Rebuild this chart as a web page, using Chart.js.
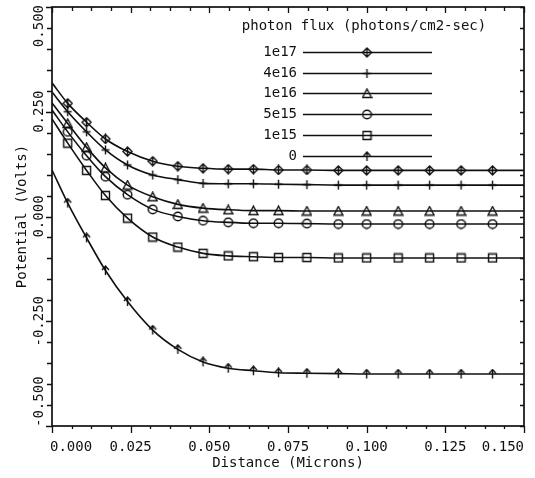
<!DOCTYPE html>
<html>
<head>
<meta charset="utf-8">
<script src="https://cdn.jsdelivr.net/npm/chart.js@4.4.0/dist/chart.umd.min.js"></script>
<style>
html, body { margin: 0; padding: 0; background: #fff; }
#wrap { width: 535px; height: 478px; }
</style>
</head>
<body>
<div id="wrap"><canvas id="chart" width="535" height="478"></canvas></div>
<script>
// distance along the device (microns)
const distance = [0, 0.005, 0.011, 0.017, 0.024, 0.032, 0.040, 0.048, 0.056, 0.064, 0.072, 0.081, 0.091, 0.100, 0.110, 0.120, 0.130, 0.140, 0.150];

// potential (volts) for each photon flux
const flux1e17 = [0.319, 0.270, 0.225, 0.185, 0.155, 0.132, 0.120, 0.115, 0.113, 0.113, 0.111, 0.111, 0.110, 0.110, 0.110, 0.110, 0.110, 0.110, 0.110];
const flux4e16 = [0.297, 0.250, 0.202, 0.159, 0.123, 0.099, 0.088, 0.079, 0.078, 0.078, 0.077, 0.076, 0.075, 0.075, 0.075, 0.075, 0.075, 0.075, 0.075];
const flux1e16 = [0.271, 0.222, 0.165, 0.116, 0.075, 0.047, 0.029, 0.020, 0.016, 0.014, 0.014, 0.013, 0.013, 0.013, 0.013, 0.013, 0.013, 0.013, 0.013];
const flux5e15 = [0.254, 0.202, 0.145, 0.095, 0.052, 0.017, 0.000, -0.010, -0.014, -0.016, -0.016, -0.017, -0.018, -0.018, -0.018, -0.018, -0.018, -0.018, -0.018];
const flux1e15 = [0.233, 0.175, 0.110, 0.050, -0.004, -0.049, -0.073, -0.088, -0.094, -0.096, -0.098, -0.098, -0.099, -0.099, -0.099, -0.099, -0.099, -0.099, -0.099];
const flux0 = [0.111, 0.032, -0.051, -0.129, -0.203, -0.271, -0.317, -0.347, -0.362, -0.368, -0.373, -0.374, -0.375, -0.376, -0.376, -0.376, -0.376, -0.376, -0.376];

const seriesLabels = ["1e17", "4e16", "1e16", "5e15", "1e15", "0"];
const legendTitle = "photon flux (photons/cm2-sec)";

const xTickLabels = ["0.000", "0.025", "0.050", "0.075", "0.100", "0.125", "0.150"];
const yTickLabels = ["-0.500", "-0.250", "0.000", "0.250", "0.500"];
const xMinorPerMajor = 4;
const yMinorPerMajor = 5;

const FONT = "14px 'DejaVu Sans Mono', 'Liberation Mono', monospace";
const INK = "#101010";

// small marker pictures, used both on the curves and in the legend
function makeMarker(kind) {
    const c = document.createElement("canvas");
    c.width = 11; c.height = 11;
    const g = c.getContext("2d");
    g.strokeStyle = INK;
    g.lineWidth = 1.4;
    g.beginPath();
    if (kind === "diamond") {
        g.moveTo(5.5, 1); g.lineTo(10, 5.5); g.lineTo(5.5, 10); g.lineTo(1, 5.5); g.closePath();
        g.moveTo(5.5, 1); g.lineTo(5.5, 10);
    } else if (kind === "plus") {
        g.moveTo(5.5, 1); g.lineTo(5.5, 10);
        g.moveTo(1.5, 5.5); g.lineTo(9.5, 5.5);
    } else if (kind === "triangle") {
        g.moveTo(5.5, 1); g.lineTo(10, 9.5); g.lineTo(1, 9.5); g.closePath();
    } else if (kind === "circle") {
        g.arc(5.5, 5.5, 4.3, 0, Math.PI * 2);
    } else if (kind === "square") {
        g.rect(1.5, 1.5, 8, 8);
    } else if (kind === "arrow") {
        g.moveTo(5.5, 1); g.lineTo(5.5, 10);
        g.moveTo(2, 5); g.lineTo(5.5, 1); g.lineTo(9, 5);
    }
    g.stroke();
    return c;
}

const markers = ["diamond", "plus", "triangle", "circle", "square", "arrow"].map(makeMarker);
const seriesValues = [flux1e17, flux4e16, flux1e16, flux5e15, flux1e15, flux0];

const datasets = seriesValues.map((vals, i) => ({
    label: seriesLabels[i],
    data: vals.map((v, j) => ({ x: distance[j], y: v })),
    borderColor: INK,
    borderWidth: 1.6,
    pointStyle: markers[i],
    pointRadius: (ctx) => (ctx.dataIndex === 0 || ctx.dataIndex === distance.length - 1 ? 0 : 5),
    cubicInterpolationMode: "monotone",
    fill: false
}));

// frame, tick marks, tick labels, axis titles and legend
const framePlugin = {
    id: "frame",
    afterDraw(chart) {
        const ctx = chart.ctx;
        const a = chart.chartArea;
        const xs = chart.scales.x;
        const ys = chart.scales.y;
        ctx.save();
        ctx.strokeStyle = INK;
        ctx.fillStyle = INK;
        ctx.lineWidth = 1.7;
        ctx.strokeRect(a.left, a.top, a.right - a.left, a.bottom - a.top);

        ctx.lineWidth = 1.3;
        // x ticks
        const xMajor = xTickLabels.map(Number);
        const xStep = (xMajor[1] - xMajor[0]) / xMinorPerMajor;
        const nx = (xMajor.length - 1) * xMinorPerMajor;
        for (let i = 0; i <= nx; i++) {
            const px = Math.round(xs.getPixelForValue(xMajor[0] + i * xStep)) + 0.5;
            const major = i % xMinorPerMajor === 0;
            ctx.beginPath();
            ctx.moveTo(px, a.bottom); ctx.lineTo(px, a.bottom + (major ? 7 : 3));
            ctx.moveTo(px, a.top); ctx.lineTo(px, a.top + (major ? 6 : 4));
            ctx.stroke();
        }
        // y ticks
        const yMajor = yTickLabels.map(Number);
        const yStep = (yMajor[1] - yMajor[0]) / yMinorPerMajor;
        const ny = (yMajor.length - 1) * yMinorPerMajor;
        for (let i = 0; i <= ny; i++) {
            const py = Math.round(ys.getPixelForValue(yMajor[0] + i * yStep)) + 0.5;
            const major = i % yMinorPerMajor === 0;
            ctx.beginPath();
            ctx.moveTo(a.left, py); ctx.lineTo(a.left - (major ? 6 : 5), py);
            ctx.moveTo(a.right, py); ctx.lineTo(a.right - 4, py);
            ctx.stroke();
        }

        ctx.font = FONT;
        // x tick labels, kept inside the axis ends
        ctx.textBaseline = "middle";
        ctx.textAlign = "left";
        xTickLabels.forEach((t) => {
            const w = ctx.measureText(t).width;
            let px = xs.getPixelForValue(Number(t)) - w / 2;
            px = Math.max(a.left - 2, Math.min(a.right - w, px));
            ctx.fillText(t, px, a.bottom + 21);
        });
        // y tick labels, rotated and kept inside the axis ends
        yTickLabels.forEach((t) => {
            const w = ctx.measureText(t).width;
            let py = ys.getPixelForValue(Number(t));
            py = Math.max(a.top + w / 2 - 2, Math.min(a.bottom - w / 2 + 1, py));
            ctx.save();
            ctx.translate(a.left - 13, py);
            ctx.rotate(-Math.PI / 2);
            ctx.textAlign = "center";
            ctx.fillText(t, 0, 0);
            ctx.restore();
        });

        // axis titles
        ctx.textAlign = "center";
        ctx.fillText("Distance (Microns)", (a.left + a.right) / 2, a.bottom + 37);
        ctx.save();
        ctx.translate(a.left - 30, (a.top + a.bottom) / 2);
        ctx.rotate(-Math.PI / 2);
        ctx.fillText("Potential (Volts)", 0, 0);
        ctx.restore();

        // legend
        ctx.fillText(legendTitle, 364, 26);
        seriesLabels.forEach((lab, i) => {
            const ry = Math.round(52 + i * 20.7) + 0.5;
            ctx.textAlign = "right";
            ctx.fillText(lab, 297, ry);
            ctx.lineWidth = 1.6;
            ctx.beginPath();
            ctx.moveTo(303, ry); ctx.lineTo(432, ry);
            ctx.stroke();
            ctx.drawImage(markers[i], 367 - 5.5, ry - 5.5);
        });
        ctx.restore();
    }
};

new Chart(document.getElementById("chart"), {
    type: "line",
    data: { datasets: datasets },
    options: {
        responsive: false,
        animation: false,
        layout: { padding: { left: 52, right: 11, top: 7, bottom: 52 } },
        scales: {
            x: { type: "linear", min: 0, max: 0.15, display: false },
            y: { type: "linear", min: -0.5, max: 0.5, display: false }
        },
        plugins: {
            legend: { display: false },
            tooltip: { enabled: false }
        }
    },
    plugins: [framePlugin]
});
</script>
</body>
</html>
